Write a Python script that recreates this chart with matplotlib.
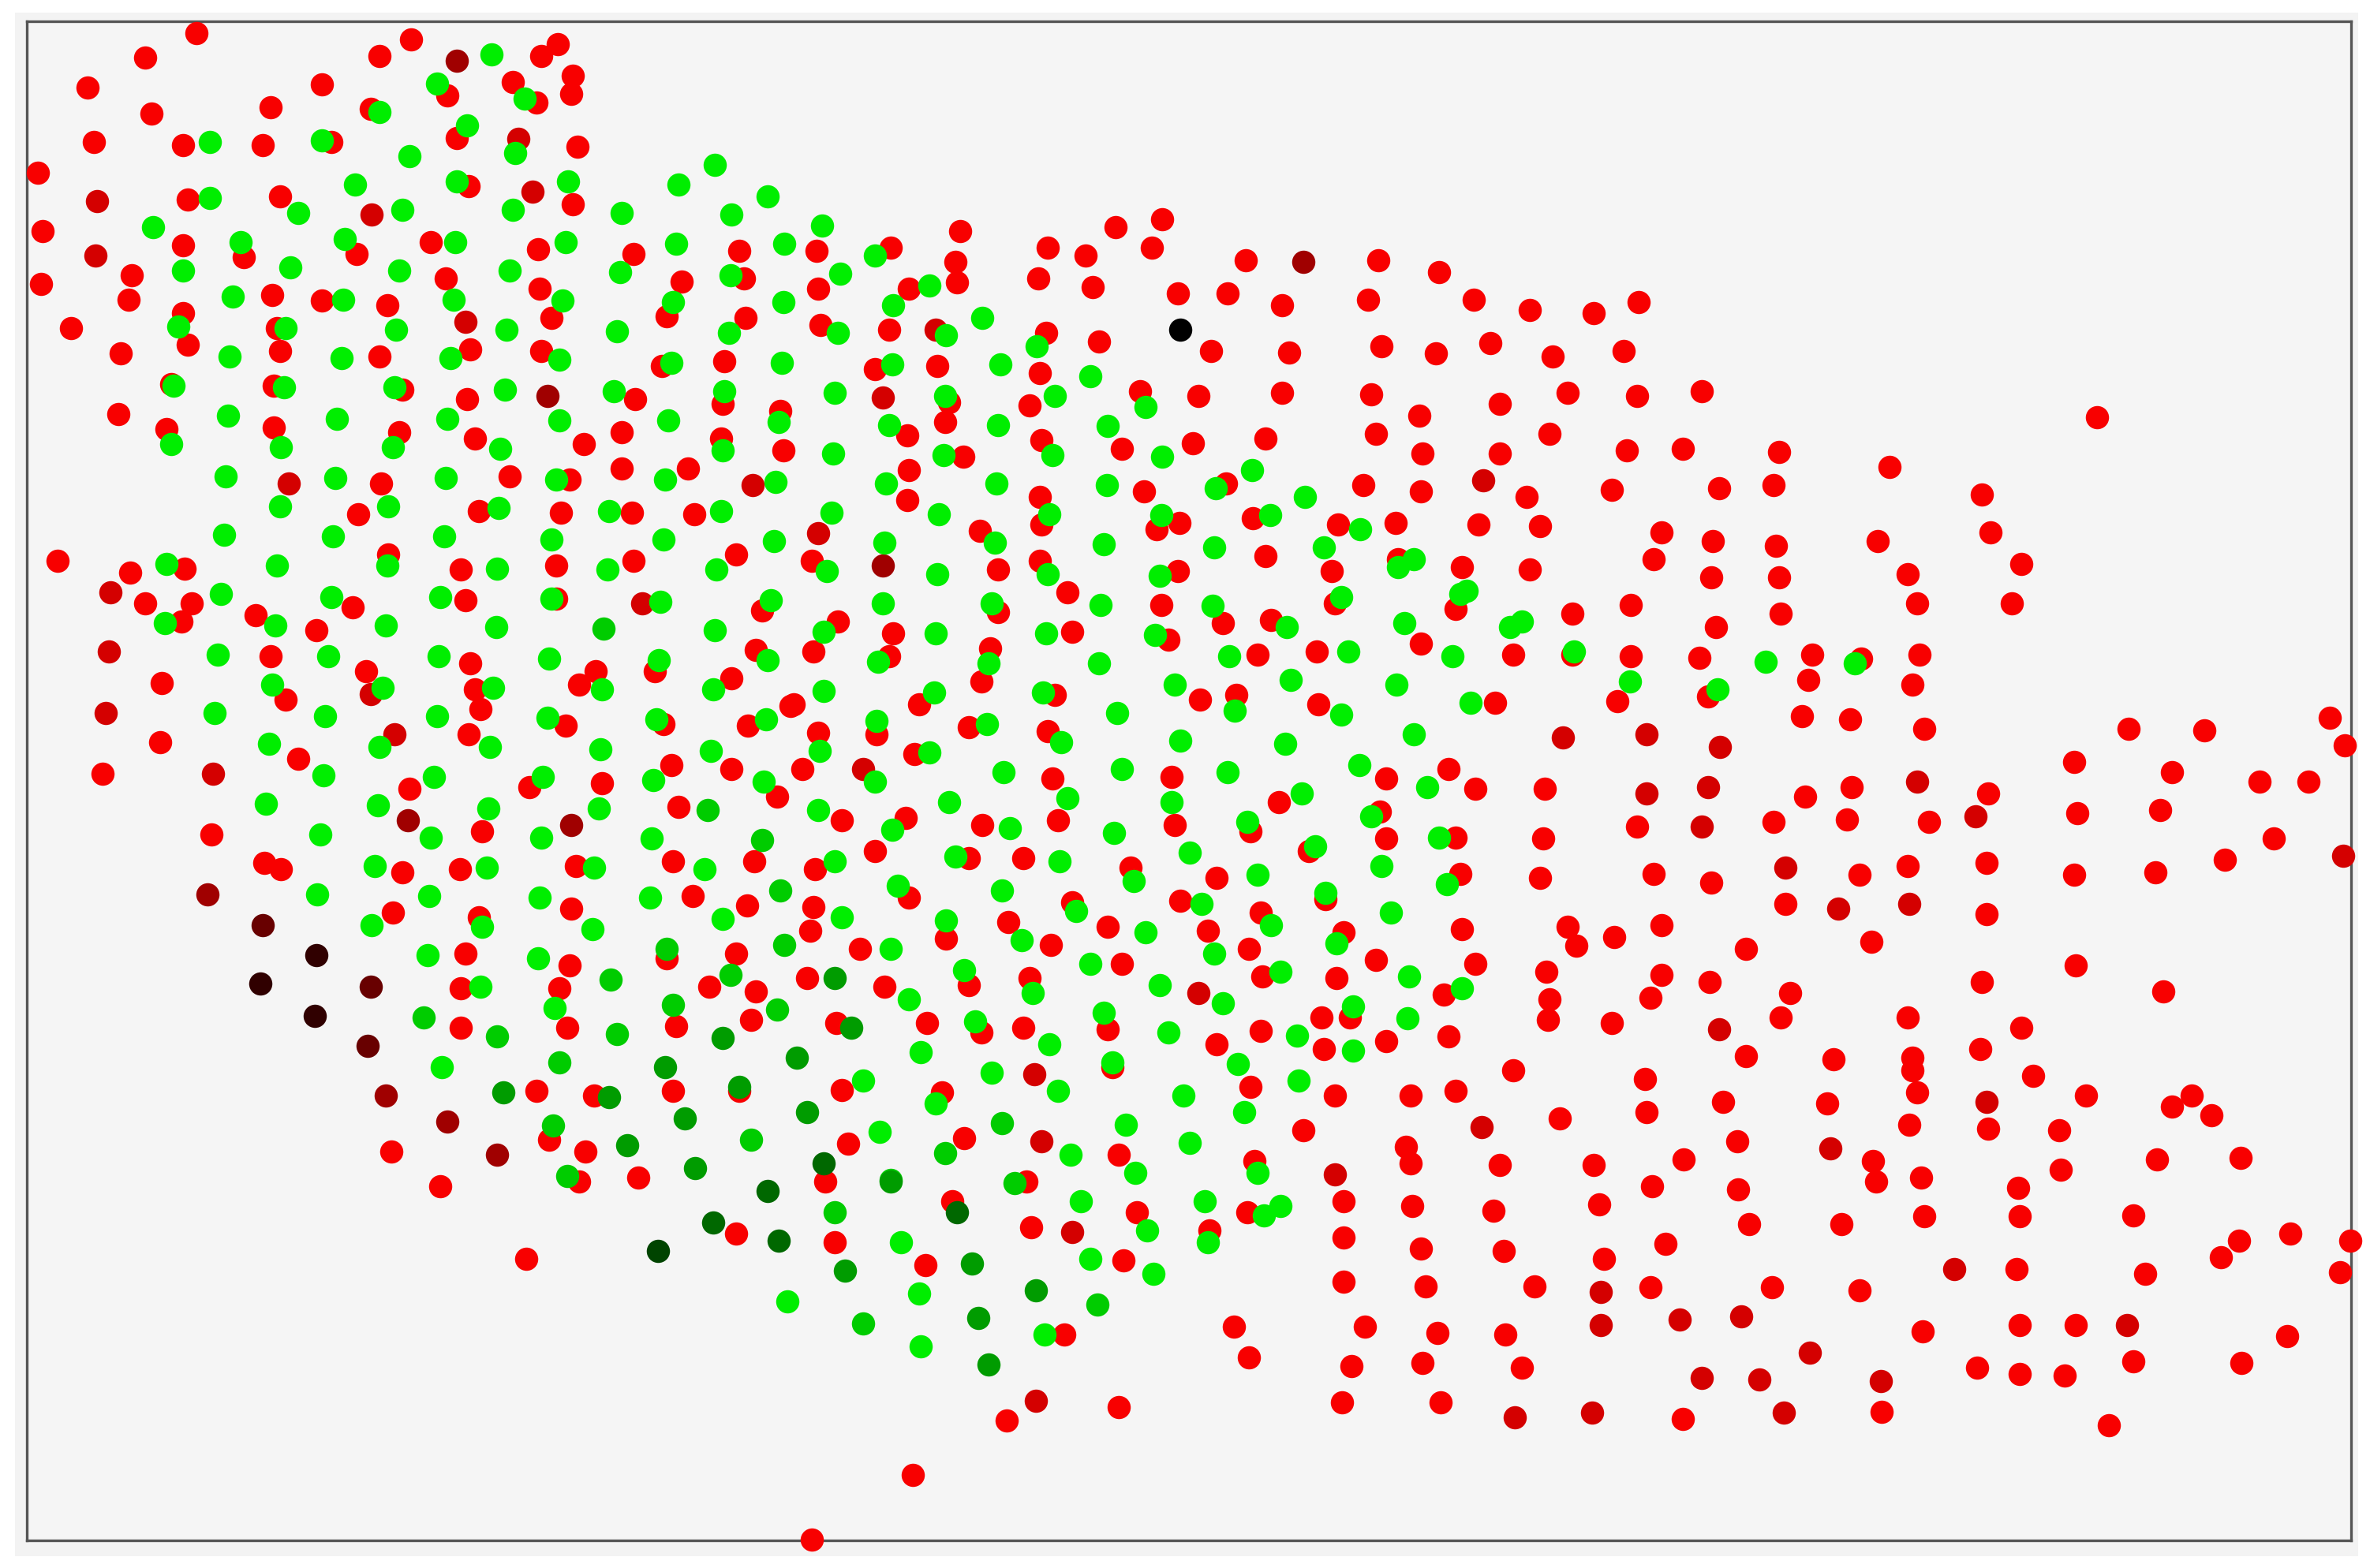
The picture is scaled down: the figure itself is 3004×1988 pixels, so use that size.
import numpy as np
import matplotlib
matplotlib.use('Agg')
import matplotlib.pyplot as plt
from matplotlib.patches import Rectangle

# values, x and y in the plot's own units (y grows downward)
red_bright = [
    (130,22),(96,38),(58,58),(100,75),(62,94),(25,114),(28,153),(27,188),(87,182),(85,198),(47,217),(80,234),(78,274),(110,284),
    (251,37),(272,26),(358,37),(369,29),(379,50),(378,62),(339,54),(355,68),(296,63),(213,56),(179,71),(245,72),(302,91),(382,97),
    (219,94),(174,96),(121,96),(310,123),(379,135),(185,130),(124,132),(285,160),(356,165),(419,168),(489,166),(121,162),(161,170),
    (236,168),(295,184),(357,191),(451,186),(492,184),(180,195),(213,199),(256,202),(365,210),(441,209),(493,210),(121,207),(183,217),
    (124,228),(185,232),(251,236),(311,231),(358,232),(438,242),(479,239),(113,254),(181,255),(266,258),(309,264),(420,264),(478,267),
    (516,272),(181,283),(264,286),(314,290),(386,294),(411,286),(477,290),(518,298),(252,320),(337,315),(377,317),(411,310),(455,310),
    (237,340),(317,338),(371,339),(418,339),(459,340),
    # left block, lower rows
    (38,371),(86,379),(122,376),(96,399),(127,399),(120,411),(257,367),(305,377),(368,374),(419,371),(487,367),(233,402),(308,397),
    (368,396),(504,404),(169,407),(209,417),(179,434),(311,439),(242,444),(394,444),(383,453),(433,444),(500,430),(484,449),(107,452),
    (189,463),(314,456),(318,469),(523,467),(374,480),(439,479),(495,480),(106,491),(310,486),(197,502),(68,512),(444,506),(484,509),
    (271,522),(350,521),(398,518),(514,527),(449,534),(140,552),(319,550),(175,571),(186,575),(266,577),(304,575),(381,573),(445,570),
    (499,570),(458,593),(494,599),(378,601),(260,604),(317,607),(308,631),(487,631),(441,634),(377,639),(305,654),(370,654),(469,653),
    (500,656),(305,680),(375,680),(447,679),(497,675),
    (259,762),(291,785),(355,722),(393,725),(445,722),(489,722),(363,754),(387,762),(422,779),(383,782),(348,833),(487,816),
    # middle block
    (635,153),(738,150),(769,145),(540,166),(589,164),(693,164),(718,169),(762,164),(632,173),(633,187),(541,191),(601,191),(687,184),
    (723,190),(824,172),(912,172),(952,180),(779,194),(812,194),(848,202),(905,198),(975,198),(1012,205),(543,215),(588,218),(692,220),
    (727,226),(801,232),(853,233),(914,229),(950,234),(986,227),(1027,236),(579,244),(620,242),(688,247),(628,266),(754,259),(793,262),
    (848,260),(907,261),(992,267),(1037,260),(681,268),(939,275),(625,279),(600,288),(910,287),(1025,287),(689,291),(742,297),(789,293),
    (837,290),(941,300),(992,300),(637,302),(601,311),(811,320),(902,321),(940,325),(757,325),(600,331),(688,329),(1010,329),(689,347),
    (780,346),(765,350),(829,343),(885,347),(923,346),(978,347),(1019,348),(648,351),(837,368),(881,378),(925,370),(967,375),(1012,377),
    (537,371),(660,377),(688,371),(779,378),(706,392),(768,400),(883,399),(963,403),(1040,406),(554,411),(660,405),(591,419),(709,418),
    (773,423),(809,412),(841,410),(940,426),(538,431),(588,434),(655,429),(832,433),(871,431),(1001,433),(1040,433),(649,451),(698,460),
    (608,466),(525,466),(794,463),(818,460),(872,466),(989,465),
    (541,485),(580,486),(641,481),(693,484),(605,499),(531,509),(696,515),(775,514),(917,515),(958,509),(976,522),(1022,522),
    (557,543),(599,541),(650,546),(700,543),(777,546),(846,531),(913,537),(917,555),(827,550),(963,554),(1021,555),(579,563),(641,568),
    (677,568),(539,575),(748,574),(805,581),(866,563),(966,578),(1019,581),(601,594),(538,600),(781,596),(709,597),(877,595),(834,604),
    (536,616),(667,610),(733,613),(799,616),(889,617),(967,615),(1037,613),(1043,626),(569,628),(626,621),(695,625),(826,628),(910,635),
    (976,638),(534,647),(585,653),(641,652),(681,647),(742,638),(835,646),(884,647),(1023,643),(955,658),(1025,661),(1024,675),(553,677),
    (613,677),(649,683),(677,680),(733,681),(834,682),(874,673),(893,673),(876,694),(805,691),(917,689),(958,686),(1001,708),(557,721),
    (623,723),(736,706),(827,719),(883,725),(933,725),(963,722),(1032,740),(561,757),(638,753),(740,764),(862,748),(930,759),(933,770),
    (992,771),(830,768),(546,782),(679,782),(630,795),(752,802),(825,802),(889,795),(934,798),(988,801),(682,812),(800,814),(552,822),
    (889,819),(940,826),(995,828),(612,837),(743,834),(889,848),(943,851),(1015,851),(704,883),(816,878),(826,898),(903,878),(951,882),
    (996,883),(894,904),(941,902),(1007,905),(888,928),(953,928),(666,940),(740,931),(604,976),(537,1019),
    # right block
    (1054,207),(1084,200),(1074,232),(1083,262),(1126,259),(1387,276),(1076,298),(1113,297),(1177,299),(1250,309),(1066,324),(1137,323),
    (1173,321),(1311,327),(1099,352),(1133,358),(1175,361),(1242,358),(1317,352),(1094,370),(1337,373),(1132,382),(1177,382),(1262,380),
    (1268,399),(1331,399),(1079,400),(1178,406),(1135,415),(1079,434),(1124,435),(1199,433),(1231,436),(1270,433),(1196,450),(1265,453),
    (1070,464),(1130,461),(1192,474),(1224,476),(1273,482),(1408,482),(1458,483),(1541,475),(1551,493),(1372,504),(1437,511),(1495,517),
    (1527,517),(1315,525),(1225,521),(1194,527),(1083,547),(1173,544),(1222,542),(1276,544),(1374,538),(1429,536),(1504,555),(1472,569),
    (1094,578),(1132,584),(1230,579),(1262,573),(1314,571),(1372,579),(1426,577),(1181,598),(1314,605),(1099,612),(1068,620),(1155,628),
    (1238,623),(1099,645),(1131,650),(1092,660),(1184,657),(1311,650),(1373,639),(1431,656),(1066,677),(1178,673),(1262,673),(1337,680),
    (1155,699),(1213,701),(1265,700),(1265,708),(1310,694),(1345,712),(1088,714),(1089,736),(1140,729),(1209,730),(1268,723),(1263,744),
    (1315,747),(1380,725),(1362,748),(1437,732),(1450,725),(1463,738),(1149,755),(1114,767),(1054,771),(1239,768),(1241,782),(1271,779),
    (1093,785),(1150,787),(1058,797),(1335,786),(1363,774),(1427,767),(1482,766),(1157,810),(1218,810),(1273,805),(1336,805),(1411,804),
    (1102,823),(1061,833),(1481,821),(1515,816),(1555,821),(1469,832),(1548,842),(1419,843),(1334,840),(1092,852),(1172,852),(1230,854),
    (1272,881),(1336,877),(1373,877),(1513,884),(1308,905),(1336,909),(1366,910),(1411,901),(1483,902),(1113,939),(1245,934),(1395,943),
]
red_mid = [
    (343,92),(352,127),(64,133),(63,169),(191,320),(498,321),(246,142),(619,218),(584,263),(981,318),(541,353),(72,431),(141,512),(261,486),
    (73,392),(245,459),(425,399),(1034,488),(571,509),(684,711),(689,755),(883,777),(709,815),(793,657),(685,927),(1002,938),(1089,486),
    (1138,494),(1268,517),(1130,521),(1126,547),(1307,540),(1550,566),(1181,574),(1216,601),(1263,598),(1137,681),(1211,760),(1314,729),
    (1293,840),(1059,855),(1059,877),(1111,873),(1152,871),(1407,877),(1197,895),(1126,912),(1164,913),(1244,914),(1053,935),(1180,935),
    (1089,525),(70,472),(980,746),(308,213),
]
red_dark = [(302,40),(362,262),(862,173),(584,374),(270,543),(378,546),(137,592),(255,725),(296,742),(329,764)]
red_deep = [(174,612),(245,653),(243,692)]
red_black = [(209,632),(172,651),(208,672)]

green_bright = [
    (325,36),(289,55),(347,65),(251,74),(309,83),(139,94),(213,93),(271,103),(341,101),(473,109),(376,120),(449,122),(235,122),(302,120),
    (508,130),(139,131),(197,141),(266,139),(339,139),(411,141),(484,142),(101,150),(159,160),(228,158),(301,160),(374,160),(447,161),
    (519,161),(121,179),(192,177),(264,179),(337,179),(410,180),(483,182),(154,196),(227,198),(300,198),(372,199),(445,200),(518,200),
    (118,216),(189,217),(262,218),(335,218),(408,219),(482,220),(152,236),(226,237),(298,237),(370,238),(444,240),(517,240),(115,255),
    (188,256),(261,256),(334,258),(406,259),(479,259),(151,275),(223,277),(296,277),(370,278),(442,278),(515,279),(113,294),(186,296),
    (260,296),(331,297),(478,298),(149,315),(222,316),(295,316),(368,317),(440,317),(513,319),(185,335),(257,335),(330,336),(403,338),
    (477,338),(148,354),(220,355),(294,355),(365,357),(439,357),(512,358),
    (110,373),(183,374),(256,374),(329,376),(402,377),(474,377),(146,393),(219,395),(291,395),(365,396),(437,398),(510,397),(109,412),
    (182,414),(255,414),(328,415),(473,417),(144,433),(217,434),(290,434),(363,436),(436,437),(508,437),(180,453),(253,455),(326,455),
    (398,456),(472,456),(142,472),(215,474),(289,474),(362,475),(434,476),(507,476),(178,492),(251,494),(324,494),(397,496),(470,497),
    (214,513),(287,514),(359,514),(432,516),(505,517),(176,532),(250,533),(323,535),(396,535),(212,552),(285,554),(358,554),(431,555),
    (248,573),(322,574),(393,574),(466,575),(210,592),(284,593),(357,594),(430,594),(246,612),(319,613),(392,615),(478,608),(283,632),
    (356,634),(318,653),(367,667),(292,706),(582,749),(596,822),(608,856),(609,891),(521,861),(691,883),
    (544,149),(579,169),(556,181),(615,189),(591,202),(650,210),(554,220),(626,222),(686,229),(590,241),(662,241),(721,249),(552,260),
    (625,262),(698,262),(758,269),(588,281),(660,281),(733,282),(551,300),(624,301),(696,301),(769,302),(828,311),(586,320),(659,320),
    (732,321),(804,323),(863,329),(550,339),(621,340),(694,340),(768,341),(840,341),(900,350),(585,359),(658,359),(730,360),(803,362),
    (876,362),(935,370),(925,375),(547,378),(620,380),(693,380),(767,381),(887,395),(970,391),(966,393),(584,399),(656,399),(728,400),
    (802,401),(929,412),(1007,411),(999,415),(545,418),(619,419),(692,419),(764,420),(851,415),(581,438),(654,439),(727,439),(813,434),
    (892,431),(961,434),(1041,431),(545,457),(618,458),(690,458),(777,453),(854,450),(924,453),(973,465),
    (739,472),(817,470),(887,473),(580,477),(653,479),(702,491),(781,490),(850,492),(935,486),(542,497),(615,498),(579,517),(664,511),
    (742,509),(812,511),(899,506),(944,521),(861,525),(706,528),(775,531),(541,536),(628,531),(590,549),(668,548),(737,551),(825,544),
    (907,540),(952,554),(787,564),(552,570),(632,567),(701,570),(750,583),(870,560),(914,573),(832,579),(957,585),(594,586),(663,589),
    (712,603),(795,598),(877,591),(920,604),(557,607),(626,609),(758,617),(676,622),(841,612),(884,624),(803,631),(589,628),(638,642),
    (721,638),(847,643),(932,646),(767,652),(683,657),(601,661),(967,654),(809,664),(645,676),(730,670),(773,683),(895,666),(931,674),
    (858,685),(895,695),(694,691),(609,696),(736,703),(819,704),(656,710),(571,715),(700,722),(859,715),(783,725),(619,730),(823,736),
    (745,744),(787,756),(708,764),(751,776),(832,776),(715,795),(797,795),(847,798),(836,804),(759,814),(799,822),(721,833),(763,843),
    (1168,438),(1227,439),(1078,451),(1136,456),
]
green_mid = [
    (399,416),(408,684),(370,703),(468,536),(504,556),(404,648),(280,673),(329,686),(516,589),(519,625),(483,645),(441,628),(445,665),
    (514,668),(589,781),(552,802),(625,763),(571,876),(726,863),(375,778),(497,754),(366,745),
    (663,743),(671,783),
]
green_dark = [
    (478,687),(440,706),(527,700),(333,723),(403,726),(489,719),(534,736),(453,740),(415,758),(460,773),(559,841),(643,836),(647,872),
    (654,903),(685,854),(552,647),(563,680),(589,782),
]
green_deep = [(508,788),(472,809),(515,821),(633,802),(545,770)]
green_black = [(435,828)]
black_points = [(781,218)]

# red shades first, then green on top
series = [
    (red_bright, '#f80000'),
    (red_mid, '#d40000'),
    (red_dark, '#a00000'),
    (red_deep, '#680000'),
    (red_black, '#300000'),
    (green_bright, '#00ee00'),
    (green_mid, '#00cc00'),
    (green_dark, '#009c00'),
    (green_deep, '#006800'),
    (green_black, '#004400'),
    (black_points, '#000000'),
]

W, H = 3004, 1988
fig = plt.figure(figsize=(W / 100, H / 100), dpi=100, facecolor='white')
fig.add_artist(Rectangle((19 / W, 1 - 1973 / H), 2970 / W, 1957 / H, transform=fig.transFigure,
                         facecolor='#f3f3f3', edgecolor='none', zorder=-1))

ax = fig.add_axes([34 / W, 1 - 1953 / H, (2980 - 34) / W, (1953 - 27) / H])
ax.set_facecolor('#f5f5f5')
ax.set_xlim(17.7, 1555.3)
ax.set_ylim(1019.3, 14)
ax.set_xticks([])
ax.set_yticks([])
for spine in ax.spines.values():
    spine.set_color('#555555')
    spine.set_linewidth(2.4)

for points, colour in series:
    pts = np.array(points)
    ax.scatter(pts[:, 0], pts[:, 1], s=450, c=colour, linewidths=0, clip_on=False, zorder=3)

fig.savefig('out.png', dpi=100, facecolor=fig.get_facecolor())
